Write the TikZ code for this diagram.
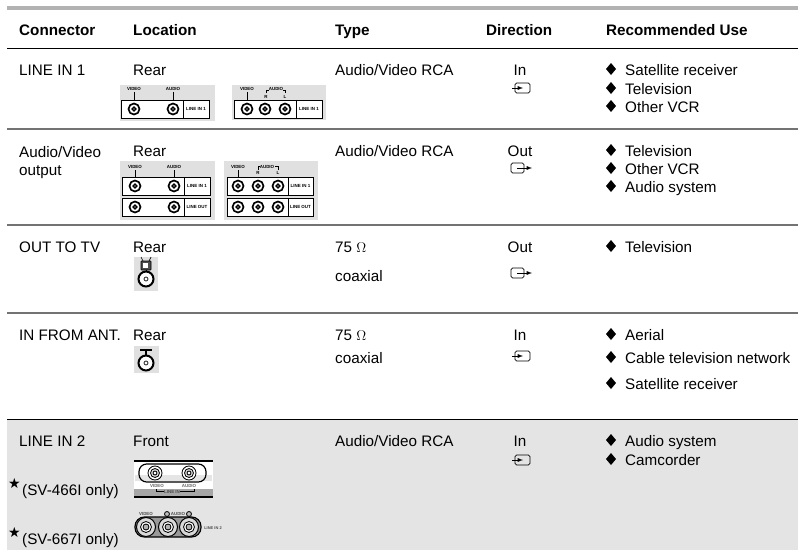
\documentclass[tikz,border=0pt]{standalone}
\usepackage{fontspec}
\setmainfont{Liberation Sans}
\newfontfamily\symfont{DejaVu Sans}
\tikzset{
  x=0.03cm, y=-0.03cm,
  txt/.style={inner sep=0mm, anchor=base west, font=\fontsize{13}{15}\selectfont},
  head/.style={inner sep=0mm, anchor=base west, font=\fontsize{13}{15}\selectfont\bfseries},
  mid/.style={inner sep=0mm, anchor=base, font=\fontsize{13}{15}\selectfont},
  tiny/.style={inner sep=0mm, font=\fontsize{3.8}{4}\selectfont\bfseries},
  rowline/.style={line width=0.6mm, black!55},
  panel/.style={fill=black!12, draw=none},
  conbox/.style={draw, line width=0.3mm, fill=white},
  jack/.style={draw, circle, line width=0.5mm, inner sep=0mm, minimum size=3.3mm, fill=white},
  jackin/.style={draw, circle, line width=0.4mm, inner sep=0mm, minimum size=1.1mm, fill=white},
  lead/.style={line width=0.2mm}
}
\begin{document}
\begin{tikzpicture}
 \useasboundingbox (0,0) rectangle (798,550);
 \fill[black!10.5] (7,419) rectangle (798,550);

 % rules
 \draw[line width=1mm,black!30] (7,8) -- (798,8);
 \draw[line width=0.3mm] (7,48) -- (798,48);
 \foreach \y in {129,225,313} {
   \draw[rowline] (7,\y) -- (798,\y);
 }
 \draw[line width=0.3mm] (7,419) -- (798,419);

 % header
 \foreach \x/\t in {19/Connector, 133/Location, 335/Type, 486/Direction, 606/Recommended Use} {
   \node[head] at (\x,35) {\t};
 }

 % first columns
 \foreach \x/\y/\t in {19/75/LINE IN 1, 133/75/Rear, 335/75/{Audio/Video RCA},
   19/157/{Audio/Video}, 19/175/output, 133/156/Rear, 335/156/{Audio/Video RCA},
   19/252/OUT TO TV, 133/252/Rear, 335/252/75 $\Omega$, 335/281/coaxial,
   19/340/IN FROM ANT., 133/340/Rear, 335/340/75 $\Omega$, 335/363/coaxial,
   19/446/LINE IN 2, 133/446/Front, 335/446/{Audio/Video RCA},
   22/495/(SV-466I only), 22/544/(SV-667I only)} {
   \node[txt] at (\x,\y) {\t};
 }
 \node[inner sep=0mm,font=\symfont\fontsize{12}{12}\selectfont] (stara) at (14.5,483) {★};
 \node[inner sep=0mm,font=\symfont\fontsize{12}{12}\selectfont] (starb) at (14.5,532) {★};

 % direction
 \foreach \y/\t in {75/In, 156/Out, 252/Out, 340/In, 446/In} {
   \node[mid] at (520,\y) {\t};
 }
 \foreach \y in {83,351,455} {
   \draw[line width=0.2mm,rounded corners=0.5mm] (515,\y) rectangle (530,\y+10);
   \draw[-latex,line width=0.2mm] (512,\y+5) -- (523,\y+5);
 }
 \foreach \y in {163,268} {
   \draw[line width=0.2mm,rounded corners=0.5mm] (511,\y) rectangle (524,\y+10);
   \draw[-latex,line width=0.2mm] (517,\y+5) -- (532,\y+5);
 }

 % uses
 \foreach \y/\t in {75/Satellite receiver, 94/Television, 112/Other VCR,
   156/Television, 174/Other VCR, 192/Audio system, 252/Television,
   340/Aerial, 363/Cable television network, 389/Satellite receiver,
   446/Audio system, 465/Camcorder} {
   \fill (611,\y-12) -- (616,\y-6) -- (611,\y) -- (606,\y-6) -- cycle;
   \node[txt] at (625,\y) {\t};
 }

 % rear panel, two jacks
 \fill[panel] (120,85) rectangle (215,121);
 \draw[conbox] (121,100) rectangle (209,118);
 \draw[line width=0.3mm] (183,100) -- (183,118);
 \foreach \x/\t in {134/VIDEO, 173/AUDIO} {
   \node[tiny] at (\x,89) {\t};
   \draw[lead] (\x,92) -- (\x,100);
   \node[jack] at (\x,109) {};
   \node[jackin] at (\x,109) {};
 }
 \node[tiny] at (196,109) {LINE IN 1};

 % rear panel, three jacks
 \fill[panel] (232,85) rectangle (326,120);
 \draw[conbox] (234,100) rectangle (322,118);
 \draw[line width=0.3mm] (296,100) -- (296,118);
 \foreach \x in {247,265,285} {
   \node[jack] at (\x,109) {};
   \node[jackin] at (\x,109) {};
 }
 \node[tiny] at (247,89) {VIDEO};
 \draw[lead] (247,92) -- (247,100);
 \node[tiny] at (276,89) {AUDIO};
 \draw[lead] (266,93) -- (266,90) -- (269,90);
 \draw[lead] (283,90) -- (285,90) -- (285,93);
 \node[tiny] at (266,97) {R};
 \node[tiny] at (285,97) {L};
 \node[tiny] at (309,109) {LINE IN 1};

 % output panels
 \fill[panel] (120,161) rectangle (215,220);
 \foreach \y/\t in {177/LINE IN 1, 198/LINE OUT} {
   \draw[conbox] (122,\y) rectangle (210,\y+18);
   \draw[line width=0.3mm] (184,\y) -- (184,\y+18);
   \node[tiny] at (197,\y+9) {\t};
   \foreach \x in {135,174} {
     \node[jack] at (\x,\y+9) {};
     \node[jackin] at (\x,\y+9) {};
   }
 }
 \foreach \x/\t in {135/VIDEO, 174/AUDIO} {
   \node[tiny] at (\x,167) {\t};
   \draw[lead] (\x,170) -- (\x,177);
 }
 \fill[panel] (224,161) rectangle (318,220);
 \foreach \y/\t in {177/LINE IN 1, 198/LINE OUT} {
   \draw[conbox] (227,\y) rectangle (313,\y+18);
   \draw[line width=0.3mm] (288,\y) -- (288,\y+18);
   \node[tiny] at (300.5,\y+9) {\t};
   \foreach \x in {238,258,278} {
     \node[jack] at (\x,\y+9) {};
     \node[jackin] at (\x,\y+9) {};
   }
 }
 \node[tiny] at (238,167) {VIDEO};
 \draw[lead] (238,170) -- (238,177);
 \node[tiny] at (267,167) {AUDIO};
 \draw[lead] (258,170) -- (258,166) -- (260,166);
 \draw[lead] (275,166) -- (278,166) -- (278,170);
 \node[tiny] at (258,173) {R};
 \node[tiny] at (278,173) {L};

 % coaxial
 \fill[panel] (134,257) rectangle (158,291);
 \fill[panel] (134,346) rectangle (159,373);
 \draw[line width=0.6mm,fill=white] (146,279) circle (7.5);
 \draw[line width=0.2mm] (146,279) circle (2);
 \draw[line width=0.6mm,fill=white] (146,363) circle (7.5);
 \draw[line width=0.2mm] (146,363) circle (2);
 \draw[fill=black!70,line width=0.2mm,rounded corners=0.2mm] (141,261) rectangle (151,270);
 \fill[white] (143,263) rectangle (148,268);
 \draw[lead] (143,261) -- (141,257);
 \draw[lead] (149,261) -- (151,257);
 \draw[lead] (146,270) -- (146,272);
 \draw[line width=0.35mm] (140,350) -- (152,350);
 \draw[line width=0.35mm] (146,350) -- (146,356);

 % front panel, SV-466I
 \fill[white] (134,461) rectangle (213,497);
 \fill[black!10] (135,475) rectangle (212,481);
 \fill[black!35] (134,489) rectangle (213,496);
 \draw[line width=0.4mm] (134,461) -- (213,461);
 \draw[line width=0.4mm] (134,497) -- (213,497);
 \draw[line width=0.35mm,rounded corners=2.3mm] (139,464) rectangle (206,482);
 \foreach \x in {155,189} {
   \draw[line width=0.25mm,fill=white] (\x,473) circle (7);
   \draw[line width=0.25mm,fill=black!15] (\x,473) circle (4.5);
   \draw[line width=0.25mm,fill=white] (\x,473) circle (2);
 }
 \node[tiny,black!60] at (157,486) {VIDEO};
 \node[tiny,black!60] at (189,486) {AUDIO};
 \node[tiny,black!70] at (172,492) {LINE IN};
 \draw[lead] (156,489) -- (156,491) -- (164,491);
 \draw[lead] (180,491) -- (194,491) -- (194,489);

 % front panel, SV-667I
 \draw[line width=0.35mm,fill=black!40,rounded corners=2.8mm] (135,517) rectangle (201,537);
 \foreach \x in {146,168,189} {
   \draw[line width=0.3mm,fill=black!15] (\x,527) circle (9.5);
   \draw[line width=0.25mm,fill=white] (\x,527) circle (5.5);
   \draw[line width=0.25mm,fill=black!30] (\x,527) circle (3);
 }
 \node[tiny,black!70] at (146,514) {VIDEO};
 \node[tiny,black!70] at (178,514) {AUDIO};
 \node[tiny,black!70,font=\fontsize{3.4}{4}\selectfont\bfseries] at (213,528) {LINE IN 2};
 \draw[line width=0.25mm,fill=black!25] (167,514) circle (2.5);
 \draw[line width=0.25mm,fill=black!25] (189,514) circle (2.5);
\end{tikzpicture}
\end{document}
